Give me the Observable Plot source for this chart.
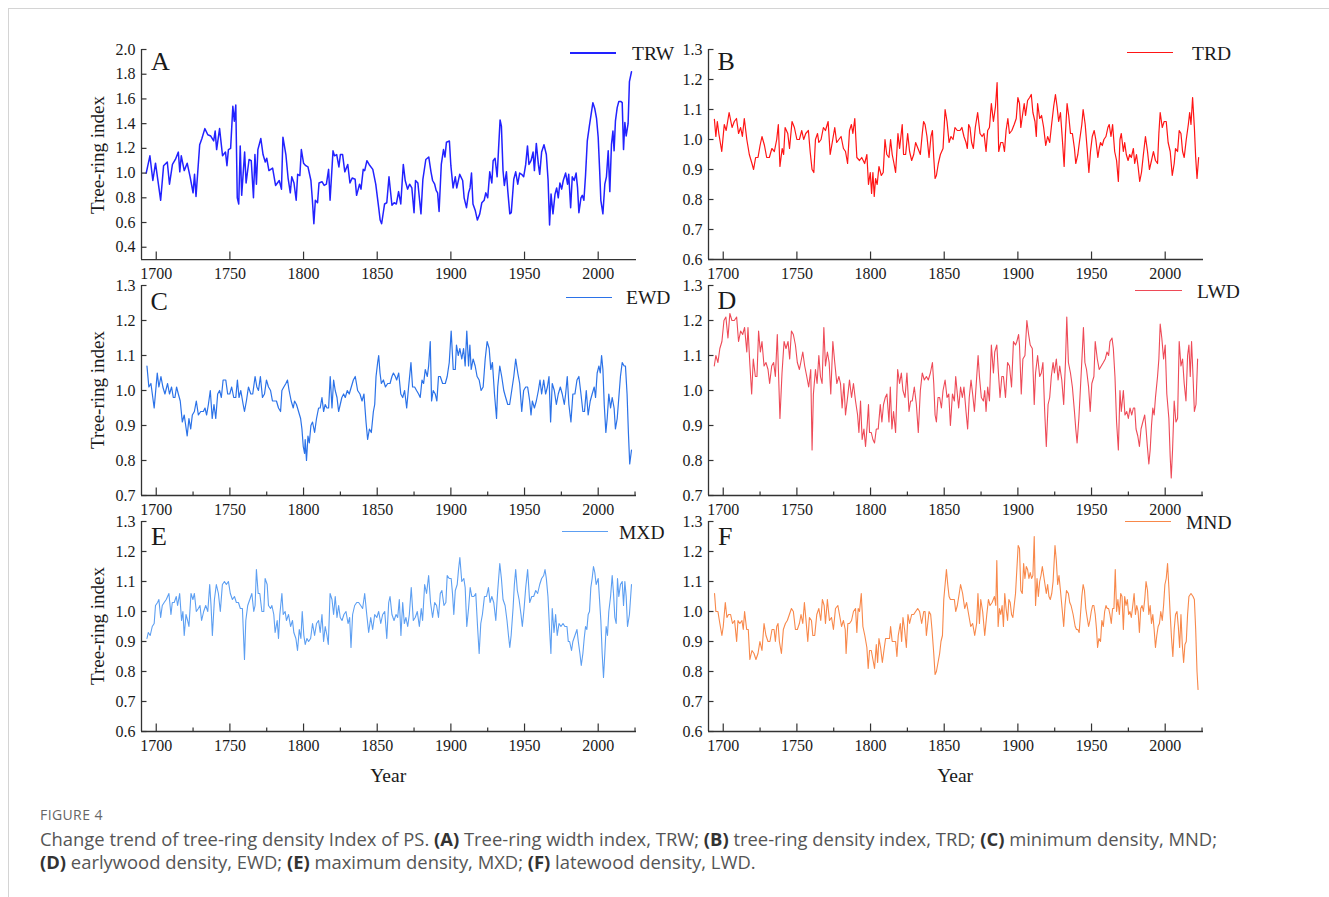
<!DOCTYPE html>
<html><head><meta charset="utf-8">
<script src="https://cdn.jsdelivr.net/npm/d3@7"></script>
<script src="https://cdn.jsdelivr.net/npm/@observablehq/plot@0.6"></script>
<style>
body{margin:0;background:#fff;}
#page{position:relative;width:1329px;height:897px;overflow:hidden;font-family:"Liberation Serif",serif;color:#222;}
.abs{position:absolute;white-space:nowrap;line-height:1;}
.cap{font-family:"Open Sans",sans-serif;color:#555;}
</style></head><body><div id="page"></div>
<script>
// ---------- data: [year, index] ----------
const TRW = [[1693.2,1.00],[1695.7,1.14],[1697.7,0.94],[1699.5,1.08],[1703,0.78],[1705,1.06],[1707.5,1.09],[1709,0.91],[1711,1.07],[1713,1.11],[1715,1.17],[1716,1.01],[1717,1.14],[1719,1.02],[1721,1.08],[1723,0.97],[1725,0.84],[1726,0.99],[1727,0.81],[1729.5,1.23],[1731,1.28],[1733,1.36],[1735,1.31],[1737,1.30],[1739,1.26],[1740,1.34],[1741,1.19],[1743,1.36],[1745,1.14],[1747,1.17],[1748,1.06],[1749,1.19],[1750.5,1.20],[1752,1.54],[1753,1.42],[1754,1.55],[1755,0.80],[1756,0.75],[1757,1.22],[1758,0.82],[1760,1.17],[1761,0.92],[1763,1.11],[1764.5,1.10],[1766,0.80],[1767,1.15],[1768,0.91],[1769,1.19],[1771,1.28],[1772.5,1.15],[1774,1.09],[1775,1.12],[1776.5,1.02],[1779,1.04],[1781,0.90],[1783.5,0.94],[1785,0.87],[1786,1.29],[1788,1.15],[1789.5,0.96],[1791,0.84],[1792,0.97],[1793.5,0.92],[1795,0.78],[1796,0.99],[1797.5,0.98],[1798.5,1.19],[1800,1.08],[1801.5,1.06],[1803,1.05],[1805,0.94],[1806,0.78],[1807,0.59],[1808,0.78],[1809.5,0.76],[1810.5,0.92],[1812.5,0.93],[1814,0.90],[1815.5,0.91],[1817,1.03],[1818,0.78],[1820,1.18],[1821,1.14],[1822.5,1.15],[1824,1.05],[1825,1.15],[1826.5,1.15],[1828,1.01],[1830,1.07],[1831.5,0.92],[1833,0.96],[1835,0.95],[1836,0.82],[1838,0.91],[1839,0.87],[1840.5,1.03],[1841.5,1.02],[1843,1.10],[1844.5,1.07],[1847,1.03],[1849,0.91],[1851,0.72],[1852,0.62],[1853,0.59],[1855,0.75],[1856.5,0.76],[1858,0.97],[1860,0.74],[1861.5,0.76],[1863,0.75],[1864.5,0.85],[1866,0.75],[1867.7,1.07],[1869,0.94],[1870.6,0.87],[1872,0.91],[1873.5,0.88],[1875,0.68],[1876,0.94],[1877.6,0.92],[1879.7,0.67],[1881,0.95],[1883,1.11],[1885,1.13],[1886.5,1.01],[1887.6,0.94],[1889,0.91],[1890,0.86],[1891,0.84],[1892,0.69],[1893.5,1.07],[1895,1.19],[1896,1.13],[1897,1.25],[1899,1.26],[1900,1.06],[1901.5,0.88],[1903,0.97],[1904,0.88],[1906,0.99],[1908,0.94],[1909,0.80],[1910.6,0.72],[1912,0.84],[1913,0.88],[1914,1.00],[1915,0.75],[1916.5,0.70],[1918,0.62],[1919.6,0.67],[1921,0.76],[1922.6,0.78],[1923.7,0.84],[1925,0.80],[1926.4,1.01],[1927.8,0.92],[1928.7,1.10],[1930,1.12],[1931.4,0.97],[1932.3,1.18],[1933.4,1.43],[1934.3,1.38],[1935.4,1.02],[1936.3,0.90],[1937.7,1.01],[1938.6,0.86],[1940,0.67],[1941,0.68],[1942.7,0.95],[1944,1.01],[1945.4,0.91],[1946.7,1.00],[1948,0.99],[1949.4,0.97],[1950.8,1.07],[1952,1.22],[1953,1.07],[1954.4,1.10],[1955.8,1.17],[1956.7,1.02],[1958,1.24],[1959.4,1.07],[1960.3,0.99],[1961.6,1.17],[1963.2,1.23],[1964.8,1.15],[1966,0.94],[1967,0.58],[1968,0.83],[1969.3,0.67],[1970.7,0.83],[1971.8,0.88],[1972.9,0.80],[1974,0.92],[1975.2,0.87],[1976.3,0.94],[1977.9,1.00],[1979.2,0.91],[1980,0.99],[1981.3,0.72],[1982.4,0.97],[1983.7,0.94],[1985,1.00],[1986,0.88],[1986.9,0.68],[1988.3,0.80],[1989.2,0.82],[1990.3,0.78],[1991.4,0.98],[1992.6,1.26],[1994,1.38],[1995.5,1.50],[1996.4,1.57],[1997.7,1.52],[1998.9,1.44],[2000,1.29],[2001,1.02],[2001.8,0.78],[2003.2,0.67],[2004.5,0.91],[2005.6,0.97],[2006.8,1.18],[2007.9,0.85],[2009,1.23],[2010,1.34],[2010.8,1.18],[2011.7,1.42],[2012.9,1.53],[2014,1.58],[2015.3,1.58],[2016.3,1.57],[2017.2,1.19],[2018.1,1.41],[2019,1.30],[2020.3,1.40],[2021.2,1.74],[2022.6,1.82]];

const TRD = [[1694,1.067],[1695,1.01],[1696,1.06],[1697,1.02],[1699,0.96],[1700.7,1.05],[1702,1.03],[1704,1.09],[1706,1.04],[1707.5,1.06],[1709,1.07],[1710.4,1.02],[1711.8,1.04],[1713,1.01],[1714.3,1.07],[1716,1.00],[1717.7,0.95],[1719.5,0.92],[1720.6,0.90],[1722,0.94],[1723.6,0.94],[1725,0.98],[1726.3,1.01],[1728,0.98],[1729.5,0.94],[1731.3,0.94],[1733,0.97],[1734.7,0.96],[1736.3,1.00],[1737.4,1.05],[1738.5,0.91],[1740,0.97],[1741,0.95],[1742,1.04],[1743.8,1.02],[1745,0.97],[1746.7,1.06],[1748.3,1.04],[1750,1.00],[1751.7,1.00],[1753.3,1.03],[1754.6,1.00],[1756,1.02],[1757.8,1.03],[1759,0.96],[1760.3,0.90],[1761.5,0.89],[1762.6,1.00],[1764,1.02],[1764.9,0.99],[1766.4,1.00],[1768,1.04],[1769.4,1.03],[1771.2,1.06],[1772.6,0.95],[1774,0.99],[1775.7,1.04],[1777,0.99],[1778.5,1.00],[1780,1.01],[1781.6,0.97],[1783,0.96],[1784.4,0.92],[1785.7,1.03],[1787,1.05],[1788,1.02],[1789.3,1.07],[1790.7,0.94],[1792.5,0.93],[1794,0.94],[1796,0.92],[1797.5,0.95],[1798.6,0.85],[1799.8,0.89],[1800.7,0.82],[1801.6,0.89],[1802.5,0.81],[1803.4,0.87],[1804.5,0.85],[1805.7,0.91],[1807.3,0.88],[1808.6,0.89],[1809.8,1.00],[1811,0.95],[1812.5,0.94],[1813.6,1.00],[1814.7,0.95],[1815.9,0.92],[1817,0.89],[1818.6,1.02],[1819.7,0.97],[1821.5,1.05],[1822.4,0.95],[1823.8,0.95],[1825.2,1.02],[1826.5,0.96],[1827.9,0.93],[1829.3,0.95],[1830.6,0.99],[1832.2,0.97],[1833.8,0.95],[1835.1,1.02],[1836,1.06],[1837,1.05],[1838.3,1.01],[1839.7,0.94],[1841,1.01],[1842,1.03],[1842.9,0.94],[1843.8,0.87],[1844.7,0.88],[1846,0.92],[1847.4,0.95],[1849.2,0.97],[1850.6,1.10],[1851.9,1.06],[1853.3,0.99],[1854.6,1.01],[1856,1.00],[1857.3,1.04],[1858.9,1.03],[1860.7,1.03],[1862,1.04],[1863.4,1.01],[1864.8,0.99],[1865.7,0.97],[1866.6,1.05],[1867.5,1.04],[1868.6,0.99],[1869.8,0.97],[1871.1,1.04],[1872.7,1.09],[1874.3,1.02],[1875.7,1.01],[1877,1.02],[1878.4,0.96],[1879.5,1.03],[1880.7,1.04],[1882,1.12],[1883.4,1.06],[1884.8,1.11],[1885.9,1.19],[1887,0.96],[1888.4,0.99],[1889.8,0.99],[1890.9,0.96],[1892,1.03],[1893.2,1.07],[1894.3,1.02],[1895.9,1.03],[1897.5,1.05],[1898.9,1.07],[1900,1.14],[1901.1,1.12],[1902,1.04],[1903.4,1.09],[1904.3,1.12],[1905.2,1.08],[1906.6,1.13],[1908,1.14],[1909.1,1.15],[1910.2,1.09],[1911.6,1.06],[1912.5,1.01],[1913.4,1.12],[1914.8,1.07],[1916.1,1.08],[1917.5,1.04],[1918.9,0.98],[1920.2,1.01],[1921.6,0.99],[1922.9,1.05],[1924.3,1.11],[1925.5,1.15],[1926.6,1.11],[1927.7,1.06],[1928.9,1.09],[1930.2,1.00],[1931.4,0.91],[1932.3,1.02],[1933.4,1.12],[1934.5,1.08],[1935.7,1.02],[1937,1.02],[1938.4,0.97],[1939.3,0.92],[1940.7,0.95],[1942,1.00],[1943.4,1.05],[1944.3,1.10],[1945.7,1.05],[1947,0.97],[1948.2,0.89],[1949.3,0.96],[1950.5,1.01],[1951.8,1.03],[1952.9,1.00],[1954.3,0.94],[1955.2,0.97],[1956.1,0.99],[1957.3,0.98],[1958.4,1.00],[1959.8,1.01],[1961.1,1.04],[1962,1.05],[1963.2,1.01],[1964.3,1.05],[1965.7,0.96],[1967,0.93],[1968.2,0.86],[1969.3,1.00],[1970.2,1.02],[1971.6,0.96],[1972.5,0.99],[1973.6,0.95],[1974.8,0.93],[1975.9,0.95],[1977,0.94],[1978.4,0.97],[1979.3,0.92],[1980.5,0.95],[1981.6,0.91],[1982.7,0.86],[1983.9,0.89],[1985.2,0.95],[1986.6,1.01],[1988,0.96],[1989.3,0.90],[1990.7,0.93],[1992,0.96],[1993.4,0.93],[1994.8,0.92],[1995.7,1.02],[1996.6,1.09],[1998,1.04],[1999.3,1.06],[2000.7,1.06],[2002,0.99],[2003.4,0.96],[2004.8,0.88],[2006.1,0.92],[2007,0.97],[2008.4,0.96],[2009.5,1.03],[2010.7,1.02],[2011.8,0.96],[2012.9,0.94],[2014.3,1.00],[2015.7,1.05],[2016.6,1.09],[2017.5,1.05],[2018.6,1.14],[2019.8,1.04],[2020.7,0.94],[2021.6,0.87],[2022.7,0.94]];

const EWD = [[1693.7,1.07],[1695,1.01],[1696.4,1.02],[1698.6,0.95],[1700.7,1.05],[1701.8,1.01],[1703.2,1.04],[1704.5,1.01],[1705.9,0.99],[1707.7,1.02],[1709,0.99],[1710.4,1.01],[1711.6,0.98],[1712.7,0.98],[1713.8,1.01],[1715,0.99],[1716.3,0.97],[1717.7,0.91],[1719,0.93],[1720,0.90],[1721,0.87],[1722.2,0.92],[1723.4,0.89],[1724.5,0.93],[1725.9,0.94],[1727.2,0.97],[1728.6,0.93],[1730.2,0.94],[1732,0.94],[1733.1,0.95],[1734.2,0.93],[1735.4,0.96],[1736.7,1.00],[1738,0.92],[1739.2,0.96],[1740.4,0.92],[1741.7,0.99],[1743,1.00],[1744.2,0.98],[1745.4,1.03],[1747.2,1.03],[1748.5,0.99],[1749.9,0.99],[1751.2,1.01],[1752.6,0.98],[1754,0.98],[1755.1,1.03],[1756.2,0.98],[1757.4,1.00],[1759,0.96],[1759.9,0.94],[1761.2,0.97],[1762.6,1.01],[1764.2,0.99],[1765.5,0.99],[1767.1,1.04],[1768.3,1.01],[1769.4,1.00],[1770.7,1.04],[1772.1,0.98],[1773.5,0.99],[1774.8,1.03],[1776.2,1.01],[1777.6,1.00],[1778.9,0.97],[1780.3,0.97],[1781.6,0.97],[1783,0.95],[1784.4,0.94],[1785.3,1.00],[1786.6,1.01],[1788,1.02],[1789.1,1.03],[1790.2,1.00],[1791.6,0.97],[1793,0.95],[1793.9,0.97],[1795.2,0.96],[1796.6,0.94],[1798,0.92],[1798.9,0.89],[1799.8,0.84],[1800.7,0.82],[1801.1,0.86],[1802,0.80],[1803,0.87],[1803.9,0.85],[1805,0.90],[1806.1,0.91],[1807.5,0.88],[1808.8,0.92],[1810.2,0.95],[1811.3,0.95],[1812.5,0.98],[1813.6,0.94],[1814.7,0.96],[1815.9,0.95],[1817,0.95],[1818.1,1.04],[1819.3,0.95],[1820.4,1.03],[1821.5,1.00],[1822.7,0.98],[1823.8,0.94],[1824.9,0.96],[1826,0.98],[1827.2,0.99],[1828.3,0.98],[1829.7,1.00],[1831,0.99],[1832.4,1.01],[1833.8,1.03],[1835.1,1.04],[1836.7,1.00],[1838.3,0.99],[1839.7,0.97],[1841,0.99],[1842.4,0.91],[1843.5,0.86],[1844.7,0.89],[1846,0.88],[1847.4,0.94],[1848.3,0.96],[1849.2,1.04],[1850.3,1.08],[1851,1.10],[1851.9,1.05],[1852.8,1.02],[1854.2,1.03],[1855.6,1.01],[1857.1,1.02],[1858.7,1.02],[1860,1.04],[1861,1.05],[1862.3,1.04],[1863.2,1.03],[1864.6,1.05],[1866,0.99],[1867.3,0.98],[1868.6,1.00],[1870,0.95],[1871.3,1.01],[1872.9,1.08],[1874,1.01],[1875.4,1.01],[1876.7,1.00],[1878.1,0.99],[1879.2,0.98],[1880.4,1.03],[1881.5,1.02],[1882.6,1.06],[1884,1.04],[1884.9,1.07],[1886,1.14],[1886.9,0.97],[1888,1.00],[1889.4,0.99],[1890.5,0.97],[1891.6,1.04],[1892.8,1.04],[1894.4,1.02],[1896.2,1.02],[1897.5,1.04],[1898.9,1.08],[1900.2,1.17],[1901.6,1.06],[1903,1.06],[1903.8,1.13],[1905,1.10],[1906.1,1.12],[1907.4,1.09],[1908.6,1.12],[1909.7,1.07],[1910.8,1.17],[1912,1.07],[1912.9,1.13],[1913.8,1.06],[1915.1,1.09],[1916.5,1.07],[1917.8,1.04],[1919.2,1.03],[1920.5,1.00],[1921.9,1.01],[1923.3,1.09],[1924.6,1.14],[1926,1.12],[1927.1,1.06],[1928.2,1.08],[1929.6,0.99],[1931,0.92],[1931.8,1.01],[1933.2,1.07],[1934.5,1.04],[1935.9,1.00],[1937.2,0.98],[1938.6,0.96],[1939.9,0.96],[1941.3,1.00],[1942.7,1.04],[1944,1.09],[1945.4,1.05],[1946.7,1.02],[1948.1,0.94],[1949.4,1.00],[1950.8,1.01],[1952.1,1.01],[1953.5,0.97],[1954.4,0.93],[1955.3,0.97],[1956.7,0.95],[1958,0.97],[1959.4,1.00],[1960.5,1.03],[1961.6,0.99],[1963,1.03],[1964.3,0.99],[1965.5,1.01],[1966.6,1.04],[1967.7,0.91],[1968.8,1.02],[1970.2,1.00],[1971.6,0.96],[1972.9,0.99],[1974.3,1.01],[1975.6,0.99],[1977,0.96],[1977.9,0.99],[1979,1.04],[1980.1,0.96],[1981.5,0.91],[1982.8,0.99],[1984.2,0.99],[1985.6,1.03],[1986.9,1.04],[1988.3,0.99],[1989.6,0.94],[1990.7,0.94],[1991.9,1.00],[1993.2,0.93],[1994.6,0.97],[1995.9,0.99],[1997.3,1.01],[1998.2,0.98],[1999.3,1.05],[2000.5,1.07],[2001.4,1.05],[2002.3,1.10],[2003.2,1.06],[2004.1,0.96],[2005.2,0.88],[2006.1,0.92],[2007.2,0.99],[2008.4,0.95],[2009.5,0.98],[2010.8,0.95],[2011.7,0.89],[2012.9,0.92],[2014,0.98],[2015.1,1.04],[2016.3,1.08],[2017.6,1.07],[2018.5,1.07],[2019.6,0.99],[2020.5,0.88],[2021.4,0.79],[2022.6,0.83]];

const LWD = [[1693.9,1.07],[1695,1.10],[1696.4,1.08],[1697.7,1.12],[1699.1,1.14],[1700.5,1.20],[1701.8,1.21],[1703.2,1.15],[1704.5,1.22],[1705.9,1.20],[1707.5,1.20],[1709.1,1.21],[1710.4,1.14],[1711.8,1.17],[1713.2,1.16],[1714.5,1.18],[1716,1.11],[1716.8,1.18],[1718,1.08],[1719.3,0.99],[1720.4,1.09],[1721.8,1.04],[1722.9,1.04],[1724,1.17],[1725.2,1.11],[1726.3,1.14],[1727.7,1.07],[1729,1.08],[1730.4,1.06],[1731.5,1.02],[1732.9,1.07],[1734.2,1.08],[1735.4,1.04],[1736.7,1.16],[1737.6,1.04],[1738.5,0.92],[1739.9,1.05],[1741.3,1.14],[1742.6,1.12],[1744,1.14],[1745.1,1.09],[1746.3,1.17],[1747.6,1.16],[1749,1.13],[1750.3,1.08],[1751.7,1.06],[1753.1,1.09],[1754,1.11],[1755.3,1.07],[1756.7,1.04],[1758,1.01],[1759.4,1.06],[1760.3,0.83],[1761.2,0.99],[1762.6,1.06],[1763.7,1.02],[1764.9,1.10],[1766,1.04],[1767.1,1.02],[1768.3,1.18],[1769.4,1.07],[1770.7,1.11],[1771.9,1.08],[1773,0.99],[1774.4,1.14],[1775.7,1.08],[1777.1,1.02],[1778.5,1.04],[1779.6,1.02],[1780.7,0.95],[1781.9,1.02],[1783,0.93],[1784.4,0.98],[1785.7,1.03],[1787.1,0.98],[1788.4,1.02],[1789.8,0.97],[1791.2,0.93],[1792.1,0.88],[1793.2,0.97],[1794.3,0.86],[1795.5,0.89],[1796.6,0.84],[1797.7,0.90],[1798.6,0.96],[1799.3,0.88],[1800.5,0.88],[1801.6,0.86],[1802.7,0.85],[1803.9,0.89],[1805.2,0.89],[1806.6,0.96],[1807.7,0.91],[1808.8,0.96],[1810,0.98],[1811.1,0.99],[1812.5,0.91],[1813.4,1.01],[1814.5,0.89],[1815.6,0.94],[1817,0.88],[1818.4,1.06],[1819.7,1.02],[1820.9,1.05],[1822,1.00],[1823.4,0.98],[1824.7,1.05],[1826.1,0.94],[1827.2,0.97],[1828.3,0.97],[1829.7,1.01],[1831.1,0.96],[1832.4,0.88],[1833.8,1.00],[1835.1,1.05],[1836.5,1.03],[1837.9,1.04],[1839.2,1.03],[1840.6,1.05],[1842,1.08],[1842.9,1.02],[1843.8,0.93],[1844.7,0.91],[1845.8,0.98],[1846.9,0.98],[1848.1,0.95],[1849.2,1.00],[1850.6,1.03],[1851.9,0.98],[1853.1,0.99],[1854.2,0.90],[1855.6,0.99],[1856.9,0.97],[1857.8,1.04],[1859.8,0.95],[1861.1,1.01],[1862.3,0.98],[1863.4,1.01],[1864.8,0.94],[1865.9,0.89],[1867,0.98],[1868.2,1.03],[1869.3,0.99],[1870.5,0.94],[1871.6,1.01],[1873,1.10],[1873.9,1.04],[1875.2,0.98],[1876.6,0.97],[1877.5,1.00],[1878.4,0.94],[1879.5,1.01],[1880.7,0.97],[1882,1.13],[1883.4,1.05],[1884.3,1.11],[1885.7,1.13],[1886.8,1.05],[1887.9,0.98],[1889.1,1.04],[1890.2,1.04],[1891.6,0.98],[1893,1.08],[1894.3,1.07],[1895.7,1.01],[1897,1.14],[1898.4,1.13],[1899.3,1.14],[1900.5,1.16],[1901.1,1.13],[1902.3,0.99],[1903.4,1.09],[1904.8,1.10],[1906.1,1.20],[1907.3,1.16],[1908.4,1.13],[1909.8,1.12],[1911.1,0.96],[1912,1.05],[1913.4,1.10],[1914.8,1.04],[1915.9,1.05],[1917,1.08],[1918.2,0.94],[1919.3,0.84],[1920.5,0.96],[1921.6,0.98],[1922.7,1.04],[1923.9,1.08],[1924.8,1.05],[1926.1,1.09],[1927.3,1.03],[1928.4,1.07],[1929.8,1.03],[1931.1,0.96],[1932.3,1.08],[1933.2,1.21],[1934.3,1.08],[1935.7,1.05],[1937,1.01],[1938.4,0.94],[1939.3,0.89],[1940.2,0.85],[1941.4,0.92],[1942.5,1.01],[1943.6,1.10],[1944.5,1.18],[1945.5,1.08],[1946.6,1.06],[1948,1.01],[1949.1,0.94],[1950.2,1.02],[1951.6,1.04],[1952.5,1.14],[1953.9,1.09],[1955.2,1.06],[1956.6,1.07],[1958,1.08],[1959.3,1.09],[1960.5,1.11],[1961.6,1.10],[1962.5,1.14],[1963.9,1.15],[1964.8,1.12],[1965.9,1.04],[1967,0.91],[1968.2,0.83],[1969.3,1.00],[1970.2,0.94],[1971.6,1.00],[1972.7,0.93],[1973.9,0.94],[1975,0.92],[1976.1,0.95],[1977.3,0.93],[1978.4,0.95],[1979.3,0.95],[1980.2,0.89],[1981.4,0.87],[1982.5,0.84],[1983.6,0.89],[1984.8,0.91],[1986.1,0.93],[1987,0.89],[1987.9,0.84],[1988.9,0.79],[1989.8,0.83],[1990.7,0.90],[1991.6,0.95],[1992.5,0.93],[1993.4,0.98],[1994.8,1.04],[1995.7,1.09],[1996.6,1.19],[1997.7,1.15],[1998.9,1.09],[2000,1.13],[2001.1,0.99],[2002.5,0.92],[2003.4,0.81],[2004.1,0.75],[2005,0.83],[2006.1,0.97],[2007.3,0.91],[2008.4,0.92],[2009.5,1.14],[2010.7,1.07],[2011.8,1.09],[2012.9,1.02],[2014.1,0.97],[2015.2,1.10],[2016.1,1.13],[2017,1.04],[2017.9,1.14],[2018.9,1.04],[2019.8,0.94],[2020.9,0.96],[2022,1.09]];

const MXD = [[1693.7,0.91],[1694.6,0.93],[1695.9,0.92],[1697.3,0.95],[1698.6,0.96],[1699.5,1.02],[1700.9,1.03],[1701.8,1.04],[1703,0.98],[1704.1,1.02],[1705.4,1.03],[1706.8,1.04],[1708.6,1.06],[1710,0.99],[1710.9,1.03],[1712.2,1.03],[1713.6,1.05],[1714.5,1.02],[1715.9,1.06],[1717.2,0.97],[1718.1,1.00],[1719,0.92],[1720.2,0.99],[1721.3,0.97],[1722.2,0.95],[1723.6,1.06],[1724.9,1.04],[1725.9,1.06],[1727.2,1.00],[1728.6,1.01],[1729.7,1.02],[1730.8,0.97],[1732.2,1.00],[1733.6,1.02],[1735,1.00],[1736.3,1.09],[1737.2,1.02],[1738.1,0.92],[1739.5,1.04],[1740.8,1.09],[1742.2,1.06],[1743.5,1.00],[1744.9,1.09],[1746.3,1.10],[1747.6,1.09],[1749,1.10],[1750.3,1.06],[1751.7,1.04],[1753.1,1.05],[1754.4,1.03],[1755.8,1.03],[1757.1,1.01],[1758.5,1.01],[1759.9,0.84],[1760.8,0.97],[1762.1,1.02],[1763.5,1.04],[1764.9,1.06],[1766.2,1.00],[1767.1,1.02],[1768,1.14],[1769.2,1.06],[1770.3,1.06],[1771.7,1.00],[1773,1.00],[1773.9,1.11],[1775.3,1.09],[1776.2,1.02],[1777.6,1.01],[1778.5,1.02],[1779.8,0.99],[1780.7,0.93],[1782.1,0.97],[1783,0.91],[1783.9,0.99],[1785.3,1.06],[1786.2,0.99],[1787.5,1.00],[1788.4,0.97],[1789.8,0.99],[1791.2,0.95],[1792.5,0.97],[1793.4,0.93],[1794.8,0.91],[1795.9,0.87],[1797.1,0.94],[1798.2,0.91],[1799.1,1.00],[1800.2,0.92],[1801.1,0.89],[1802.3,0.91],[1803.4,0.90],[1804.8,0.91],[1806.1,0.96],[1807.5,0.92],[1808.8,0.96],[1810.2,0.97],[1811.3,0.93],[1812.5,0.99],[1813.6,0.90],[1814.7,0.95],[1815.9,0.92],[1816.8,0.89],[1818,1.06],[1819.3,1.04],[1820.4,0.99],[1821.5,1.05],[1822.7,0.98],[1823.8,1.02],[1824.9,0.98],[1826.1,0.97],[1827.4,0.99],[1828.8,1.00],[1830.2,0.96],[1831.3,0.98],[1832.2,0.88],[1833.3,0.99],[1834.7,1.02],[1836.1,1.03],[1837.4,1.03],[1838.8,1.02],[1840.1,1.01],[1841.5,1.06],[1842.9,0.99],[1844.2,0.93],[1845.6,0.98],[1846.9,0.94],[1848.3,0.99],[1849.7,0.98],[1851,1.00],[1852.4,0.96],[1853.7,0.99],[1855.1,1.00],[1856.5,0.91],[1857.8,1.03],[1858.7,1.05],[1860,0.99],[1861.4,0.97],[1862.8,0.99],[1863.9,0.98],[1865,1.04],[1866.1,0.92],[1867.3,1.03],[1868.4,0.96],[1869.5,0.98],[1870.7,0.95],[1871.8,0.99],[1873.1,1.08],[1874.5,0.97],[1875.8,0.98],[1877.2,1.00],[1878.6,0.95],[1879.9,1.01],[1880.8,0.97],[1882.2,1.09],[1883.5,1.06],[1884.9,1.12],[1886.2,1.03],[1887.6,0.98],[1889,1.03],[1890.3,1.02],[1891.6,0.98],[1892.8,1.06],[1893.9,1.07],[1895.3,1.02],[1896.6,1.03],[1897.5,1.12],[1898.9,1.11],[1900.2,1.11],[1901.1,1.06],[1902,0.99],[1903,1.07],[1904.3,1.09],[1905.2,1.14],[1906.1,1.18],[1907.4,1.10],[1908.8,1.11],[1909.7,1.08],[1910.8,0.95],[1912,1.01],[1913.1,1.08],[1914.2,1.05],[1915.6,1.05],[1916.9,1.06],[1918.1,0.95],[1919.2,0.86],[1920.3,0.96],[1921.4,0.99],[1922.8,1.05],[1924.2,1.05],[1925.5,1.08],[1926.6,1.03],[1927.8,1.05],[1929.1,1.03],[1930.5,0.97],[1931.8,1.07],[1933.2,1.16],[1934.3,1.11],[1935.4,1.04],[1936.8,1.02],[1938.1,0.97],[1939.1,0.92],[1940,0.88],[1940.9,0.92],[1942.2,1.01],[1943.1,1.09],[1944,1.14],[1945.1,1.07],[1946.3,1.04],[1947.6,0.99],[1948.5,0.95],[1949.7,1.01],[1950.8,1.08],[1952.1,1.14],[1953.5,1.03],[1954.9,1.05],[1956.2,1.05],[1957.6,1.07],[1958.9,1.06],[1960.3,1.09],[1961.6,1.11],[1963,1.12],[1963.9,1.14],[1964.8,1.11],[1965.9,1.05],[1967,0.94],[1967.9,0.86],[1968.8,1.01],[1970,0.93],[1971.1,0.99],[1972.2,0.92],[1973.4,0.96],[1974.7,0.95],[1976.1,0.96],[1977.4,0.95],[1978.8,0.95],[1979.7,0.90],[1980.6,0.90],[1981.9,0.87],[1982.8,0.90],[1984.2,0.92],[1985.6,0.94],[1986.5,0.90],[1987.6,0.86],[1988.5,0.82],[1989.6,0.86],[1990.5,0.91],[1991.4,0.95],[1992.3,0.94],[1993.2,0.99],[1994.1,1.00],[1995,1.08],[1995.9,1.11],[1996.8,1.15],[1997.7,1.13],[1998.6,1.09],[2000,1.11],[2000.9,1.04],[2001.8,0.97],[2002.7,0.86],[2003.6,0.78],[2004.5,0.86],[2005.4,0.95],[2006.3,0.92],[2007.2,1.00],[2008.4,1.05],[2009.5,1.12],[2010.4,1.06],[2011.3,0.98],[2012.2,0.96],[2013.1,1.11],[2014,1.05],[2015.1,1.09],[2016.3,1.10],[2017.2,1.02],[2018.1,1.10],[2019,1.05],[2019.9,0.95],[2021.2,0.99],[2022.6,1.09]];

const MND = [[1694.1,1.06],[1695,1.00],[1696.4,1.00],[1697.7,0.96],[1699.1,0.92],[1700,0.95],[1701.4,1.03],[1702.5,0.98],[1703.6,0.99],[1705,0.99],[1706.3,0.96],[1707.7,0.97],[1709.1,0.90],[1710,0.97],[1711.3,0.96],[1712.7,0.97],[1713.6,0.94],[1714.5,1.00],[1715.9,0.94],[1717,0.94],[1718.1,0.84],[1719.5,0.87],[1720.9,0.86],[1722.2,0.84],[1723.6,0.86],[1724.9,0.90],[1726.3,0.87],[1727.7,0.96],[1729,0.92],[1730.4,0.90],[1731.7,0.90],[1733.1,0.94],[1734.5,0.94],[1735.4,0.90],[1736.3,0.95],[1737.2,0.96],[1738.1,0.90],[1739.5,0.86],[1740.8,0.94],[1742.2,0.96],[1743.5,0.97],[1744.9,0.99],[1746.3,1.01],[1747.6,1.00],[1749,0.94],[1750.3,0.94],[1751.7,0.96],[1752.8,0.99],[1754,0.96],[1755.1,1.03],[1756.2,0.97],[1757.4,0.90],[1758.5,0.98],[1759.9,0.97],[1760.8,0.92],[1762.1,0.92],[1763.5,0.99],[1764.9,1.01],[1766.2,0.97],[1767.3,1.04],[1768.5,1.02],[1769.4,0.96],[1770.7,1.04],[1772.1,0.97],[1773.5,0.98],[1774.8,0.94],[1776.2,1.01],[1777.8,1.02],[1778.9,0.99],[1780.3,0.95],[1781.6,0.97],[1782.8,0.94],[1783.4,0.86],[1784.6,0.96],[1785.7,0.96],[1787.1,0.97],[1788.4,1.00],[1789.8,1.01],[1790.7,0.93],[1791.6,1.01],[1792.5,1.00],[1793.7,1.06],[1794.8,0.95],[1796.1,0.92],[1797.5,0.88],[1798.4,0.81],[1799.3,0.87],[1800.5,0.87],[1801.6,0.84],[1802.7,0.81],[1803.9,0.89],[1804.8,0.83],[1805.7,0.91],[1806.8,0.88],[1808,0.83],[1808.8,0.86],[1810.2,0.91],[1811.6,0.91],[1812.9,0.91],[1813.6,0.95],[1814.7,0.90],[1815.9,0.90],[1817,0.90],[1817.9,0.85],[1818.8,0.92],[1820.2,0.96],[1821.1,0.90],[1822,0.98],[1823.1,0.94],[1824.3,0.88],[1825.4,0.99],[1826.5,0.96],[1827.9,0.99],[1829.3,0.99],[1830.6,1.00],[1832,1.01],[1833.3,1.00],[1834.7,0.96],[1836.1,1.00],[1837,1.00],[1837.9,0.92],[1838.8,0.96],[1839.7,1.00],[1840.8,0.99],[1841.7,0.94],[1842.9,0.86],[1843.8,0.79],[1844.7,0.80],[1845.8,0.83],[1846.9,0.86],[1847.8,0.90],[1848.8,0.92],[1849.7,1.04],[1850.6,1.09],[1851.5,1.14],[1852.4,1.09],[1853.3,1.05],[1854.2,1.04],[1855.6,1.04],[1856.9,1.04],[1857.8,1.00],[1858.9,1.02],[1860.2,1.06],[1861.1,1.09],[1862.5,1.06],[1863.9,1.01],[1865.2,1.03],[1866.6,0.99],[1868,0.95],[1869.3,0.96],[1870.7,0.92],[1872,0.96],[1872.9,1.06],[1873.9,0.96],[1874.8,1.04],[1876.1,1.00],[1877.5,0.92],[1878.9,0.99],[1880,1.04],[1881.1,1.02],[1882.5,1.03],[1884.1,1.05],[1885,1.02],[1885.7,1.17],[1886.6,0.95],[1887.5,1.01],[1888.4,0.99],[1889.3,1.02],[1890.2,0.95],[1891.1,1.06],[1892,1.01],[1893,0.97],[1893.9,1.04],[1894.8,1.03],[1895.7,0.99],[1896.6,0.98],[1897.5,1.02],[1898.4,1.06],[1899.3,1.14],[1900.2,1.22],[1901.1,1.21],[1902,1.07],[1903,1.06],[1903.9,1.16],[1904.8,1.11],[1905.7,1.15],[1906.6,1.14],[1907.5,1.11],[1908.4,1.13],[1909.3,1.11],[1910.2,1.12],[1911.1,1.25],[1912,1.02],[1913,1.11],[1913.9,1.05],[1914.8,1.10],[1915.7,1.12],[1916.6,1.15],[1917.5,1.12],[1918.4,1.09],[1919.3,1.06],[1920.2,1.09],[1921.1,1.05],[1922,1.04],[1923,1.06],[1923.9,1.10],[1925.2,1.22],[1926.1,1.17],[1927,1.09],[1927.9,1.12],[1928.9,1.07],[1930.2,1.00],[1931.1,0.95],[1932,1.02],[1933,1.07],[1934.3,1.06],[1935.2,1.03],[1936.1,1.02],[1937.5,0.99],[1938.9,0.95],[1939.8,0.94],[1940.7,0.94],[1941.6,0.93],[1942.5,0.99],[1943.4,1.05],[1944.3,1.09],[1945.2,1.07],[1946.1,1.01],[1947,0.98],[1948,0.95],[1948.9,0.97],[1949.8,1.00],[1950.7,1.02],[1951.6,1.02],[1952.5,0.99],[1953.4,0.94],[1954.1,0.88],[1955,0.91],[1956.1,0.90],[1957,0.97],[1958,0.95],[1958.9,1.00],[1959.8,1.02],[1960.7,1.01],[1961.6,1.01],[1962.5,0.99],[1963.4,0.96],[1964.3,1.01],[1965.2,1.01],[1966.1,1.14],[1967,1.00],[1967.9,1.04],[1968.9,0.99],[1969.8,1.06],[1970.7,1.05],[1971.6,0.94],[1972.5,1.05],[1973.4,1.02],[1974.3,1.04],[1975.2,0.99],[1976.1,1.00],[1977,0.98],[1978,1.02],[1978.9,1.06],[1979.8,0.99],[1980.7,1.02],[1981.6,1.00],[1982.5,0.93],[1983.4,1.01],[1984.3,1.02],[1985.2,1.00],[1986.1,1.04],[1987,1.10],[1988,1.07],[1988.9,0.99],[1989.8,1.02],[1990.7,0.96],[1991.6,0.99],[1992.5,0.94],[1993.4,0.88],[1994.3,0.92],[1995.2,0.95],[1996.1,0.96],[1997,1.00],[1998,0.97],[1998.9,1.02],[1999.8,1.09],[2000.7,1.11],[2001.6,1.16],[2002.5,1.08],[2003.4,0.99],[2004.3,0.91],[2005.2,0.85],[2006.1,0.94],[2007,0.99],[2008,1.00],[2008.9,0.95],[2009.8,0.88],[2010.7,0.99],[2011.6,0.89],[2012.5,0.83],[2013.4,0.89],[2014.3,0.90],[2015.2,0.99],[2016.1,1.05],[2017.5,1.06],[2018.9,1.05],[2019.8,1.04],[2020.7,0.94],[2021.6,0.80],[2022.3,0.74]];

// ---------- ticks ----------
const xTicks = [1700, 1750, 1800, 1850, 1900, 1950, 2000];
const xMinorTicks = [1725, 1775, 1825, 1875, 1925, 1975, 2025];
const yTicksA = [0.4, 0.6, 0.8, 1.0, 1.2, 1.4, 1.6, 1.8, 2.0];
const yTicksB = [0.6, 0.7, 0.8, 0.9, 1.0, 1.1, 1.2, 1.3];
const yTicksCD = [0.7, 0.8, 0.9, 1.0, 1.1, 1.2, 1.3];
const yTicksEF = [0.6, 0.7, 0.8, 0.9, 1.0, 1.1, 1.2, 1.3];
const xDomain = [1690, 2026];

// ---------- layout (pixel frames) ----------
const panels = [
  {letter:"A", name:"TRW", data:TRW, color:"#2222ff", sw:1.5, yDomain:[0.3,2.0], yTicks:yTicksA, minor:false,
   frame:[140.7,635.7,49.3,259.4], leg:{x1:570,x2:616,y:53,tx:632,tb:60}, let:{x:151,b:70.5}},
  {letter:"B", name:"TRD", data:TRD, color:"#ff1515", sw:1.2, yDomain:[0.6,1.3], yTicks:yTicksB, minor:false,
   frame:[707.6,1202.6,49.3,259.3], leg:{x1:1127,x2:1173,y:52.7,tx:1192,tb:60}, let:{x:717.5,b:71}},
  {letter:"C", name:"EWD", data:EWD, color:"#2b72e8", sw:1.2, yDomain:[0.7,1.3], yTicks:yTicksCD, minor:true,
   frame:[140.7,635.7,285.3,495.3], leg:{x1:566,x2:612,y:297.3,tx:626,tb:304.5}, let:{x:150.5,b:310.5}},
  {letter:"D", name:"LWD", data:LWD, color:"#ee4a57", sw:1.1, yDomain:[0.7,1.3], yTicks:yTicksCD, minor:true,
   frame:[707.6,1202.6,285.3,495.3], leg:{x1:1135,x2:1182,y:290.7,tx:1197,tb:298}, let:{x:717.5,b:309.7}},
  {letter:"E", name:"MXD", data:MXD, color:"#5d9ff2", sw:1.1, yDomain:[0.6,1.3], yTicks:yTicksEF, minor:true,
   frame:[140.7,635.7,521.3,731.3], leg:{x1:562,x2:608,y:531.3,tx:619,tb:539}, let:{x:151,b:545.7}},
  {letter:"F", name:"MND", data:MND, color:"#f8884a", sw:1.1, yDomain:[0.6,1.3], yTicks:yTicksEF, minor:true,
   frame:[707.6,1202.6,521.3,731.3], leg:{x1:1125,x2:1171,y:521.3,tx:1186,tb:529}, let:{x:718,b:545.7}}
];

const page = document.getElementById("page");
const AX = "#333";
const SERIF = "Liberation Serif, Times New Roman, serif";
const tickRight = {draw(ctx){ ctx.moveTo(0,0); ctx.lineTo(5,0); }};
const tickUpMajor = {draw(ctx){ ctx.moveTo(0,0); ctx.lineTo(0,-8); }};
const tickUpMinor = {draw(ctx){ ctx.moveTo(0,0); ctx.lineTo(0,-4); }};

function addText(txt, x, baseline, size, opts={}){
  const s = document.createElement("div");
  s.className = "abs";
  s.textContent = txt;
  s.style.left = x + "px";
  s.style.top = (baseline - 0.8375*size) + "px";
  s.style.fontSize = size + "px";
  s.style.fontFamily = opts.family || SERIF;
  s.style.color = opts.color || "#1a1a1a";
  page.appendChild(s);
  return s;
}

for (const p of panels){
  const [x0,x1,y0,y1] = p.frame;
  const mL = 70, mR = 20, mT = 10, mB = 30;
  const W = (x1-x0)+mL+mR, H = (y1-y0)+mT+mB;
  const xmin = xDomain[0], ymin = p.yDomain[0];
  const marks = [
    Plot.line(p.data, {x: d=>d[0], y: d=>d[1], stroke: p.color, strokeWidth: p.sw, strokeLinejoin:"round"}),
    Plot.ruleX([xmin], {stroke: AX, strokeWidth: 1.3}),
    Plot.ruleY([ymin], {stroke: AX, strokeWidth: 1.3}),
    Plot.dot(p.yTicks, {x: ()=>xmin, y: d=>d, symbol: tickRight, fill:"none", stroke: AX, strokeWidth: 1.2}),
    Plot.dot(xTicks, {x: d=>d, y: ()=>ymin, symbol: tickUpMajor, fill:"none", stroke: AX, strokeWidth: 1.2}),
    Plot.text(p.yTicks, {x: ()=>xmin, y: d=>d, text: d=>d.toFixed(1), textAnchor:"end", dx:-6, fontSize:16, fontFamily:SERIF, fill:"#1a1a1a"}),
    Plot.text(xTicks, {x: d=>d, y: ()=>ymin, text: d=>String(d), dy:14, fontSize:16, fontFamily:SERIF, fill:"#1a1a1a"})
  ];
  if (p.minor) marks.push(Plot.dot(xMinorTicks, {x: d=>d, y: ()=>ymin, symbol: tickUpMinor, fill:"none", stroke: AX, strokeWidth: 1.2}));
  const svg = Plot.plot({
    width: W, height: H, marginLeft: mL, marginRight: mR, marginTop: mT, marginBottom: mB,
    x: {domain: xDomain, axis: null},
    y: {domain: p.yDomain, axis: null},
    marks
  });
  svg.style.position = "absolute";
  svg.style.left = (x0 - mL) + "px";
  svg.style.top = (y0 - mT) + "px";
  svg.style.background = "transparent";
  svg.style.overflow = "visible";
  svg.style.maxWidth = "none";
  page.appendChild(svg);

  // legend
  const ln = document.createElement("div");
  ln.style.position = "absolute";
  ln.style.left = p.leg.x1 + "px";
  ln.style.width = (p.leg.x2 - p.leg.x1) + "px";
  ln.style.top = (p.leg.y - 0.75) + "px";
  ln.style.height = "1.5px";
  ln.style.background = p.color;
  page.appendChild(ln);
  addText(p.name, p.leg.tx, p.leg.tb, 19.5);
  // panel letter
  addText(p.letter, p.let.x, p.let.b, 26);
}

// axis titles
for (const cy of [155, 390, 626]){
  const d = document.createElement("div");
  d.className = "abs";
  d.textContent = "Tree-ring index";
  d.style.fontFamily = SERIF; d.style.fontSize = "19px"; d.style.color = "#1a1a1a";
  d.style.left = "97px"; d.style.top = cy + "px";
  d.style.transform = "translate(-50%,-50%) rotate(-90deg)";
  page.appendChild(d);
}
for (const cx of [388.2, 955.1]){
  const d = addText("Year", 0, 782, 19.5);
  d.style.left = cx + "px";
  d.style.transform = "translateX(-50%)";
}

// card border
const border = document.createElement("div");
border.style.cssText = "position:absolute;left:8px;top:8px;width:1400px;height:1000px;border-top:1px solid #d4d4d4;border-left:1px solid #d4d4d4;";
page.appendChild(border);

// caption
const fig = document.createElement("div");
fig.className = "abs cap";
fig.style.cssText += "left:40px;top:808px;font-size:14px;letter-spacing:0.4px;color:#666;";
fig.textContent = "FIGURE 4";
page.appendChild(fig);

const cap = document.createElement("div");
cap.className = "cap";
cap.style.cssText = "position:absolute;left:40px;top:827px;font-size:18.4px;line-height:23px;white-space:nowrap;color:#555;";
cap.innerHTML = "Change trend of tree-ring density Index of PS. <b style=\"color:#333\">(A)</b> Tree-ring width index, TRW; <b style=\"color:#333\">(B)</b> tree-ring density index, TRD; <b style=\"color:#333\">(C)</b> minimum density, MND;<br><b style=\"color:#333\">(D)</b> earlywood density, EWD; <b style=\"color:#333\">(E)</b> maximum density, MXD; <b style=\"color:#333\">(F)</b> latewood density, LWD.";
page.appendChild(cap);
</script></body></html>
